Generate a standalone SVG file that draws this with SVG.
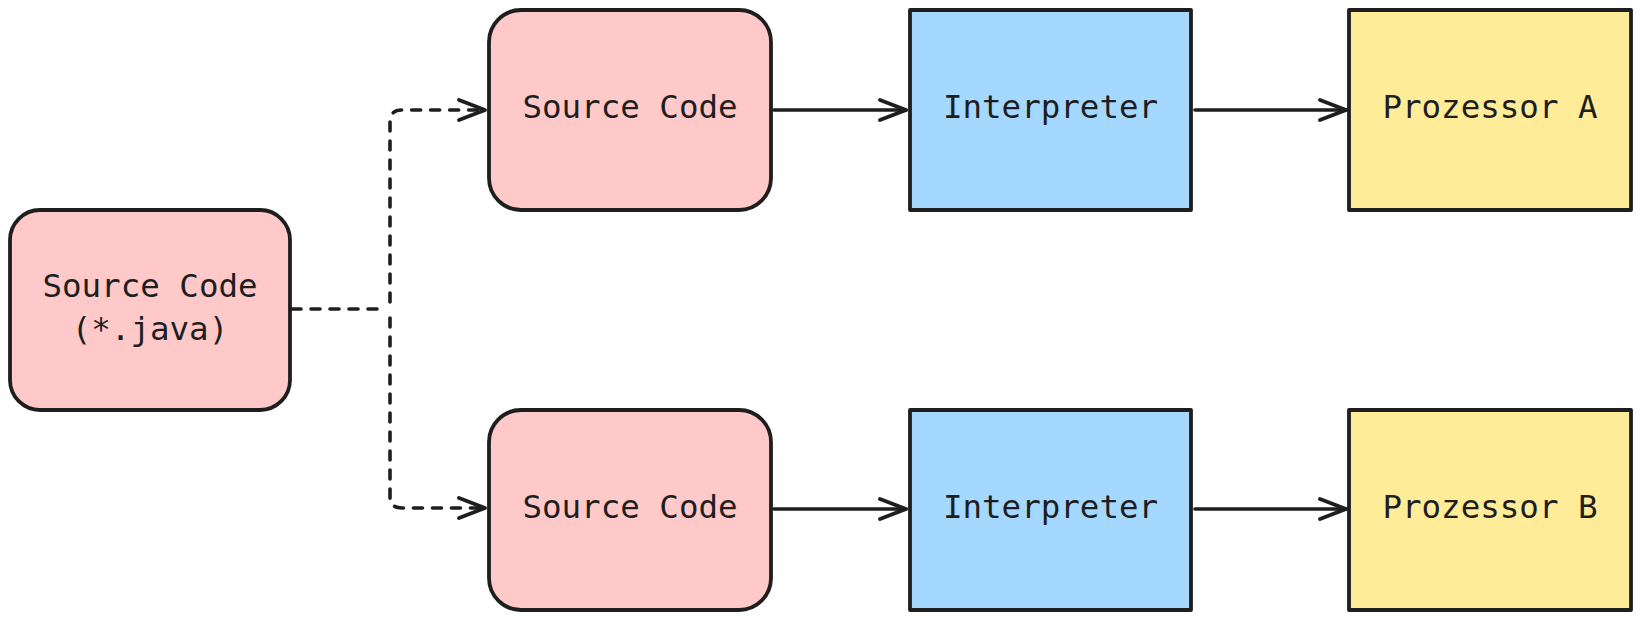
<svg xmlns="http://www.w3.org/2000/svg" width="1640" height="620" viewBox="0 0 1640 620">
<style>
.box{stroke:#1e1e1e;stroke-width:3.8;stroke-linejoin:round}
.pink{fill:#ffc9c9}
.blue{fill:#a5d8ff}
.yellow{fill:#ffec99}
.lbl{font-family:"DejaVu Sans Mono","Liberation Mono",monospace;font-size:32.5px;fill:#1e1e1e;text-anchor:middle}
.edge{fill:none;stroke:#1e1e1e;stroke-width:3.6;stroke-linecap:round;stroke-linejoin:round}
.dash{stroke-dasharray:9 10}
</style>
<defs>
<marker id="arr" markerUnits="userSpaceOnUse" markerWidth="40" markerHeight="40" refX="30" refY="20" orient="auto" overflow="visible">
<path d="M4,10 L30,20 L4,30" fill="none" stroke="#1e1e1e" stroke-width="3.8" stroke-linecap="round" stroke-linejoin="round"/>
</marker>
</defs>
<rect width="1640" height="620" fill="#ffffff"/>
<g id="connectors">
<path class="edge dash" d="M292,309 L383,309"/>
<path class="edge dash" d="M390,302 L390,122 Q390,110 402,110 L485,110" marker-end="url(#arr)"/>
<path class="edge dash" d="M390,318 L390,497 Q390,508 402,508 L485,508" marker-end="url(#arr)"/>
<path class="edge" d="M774,110 L906,110" marker-end="url(#arr)"/>
<path class="edge" d="M1195,110 L1346,110" marker-end="url(#arr)"/>
<path class="edge" d="M774,509 L906,509" marker-end="url(#arr)"/>
<path class="edge" d="M1195,509 L1346,509" marker-end="url(#arr)"/>
</g>
<g id="node-source-java">
<rect class="box pink" x="10" y="210" width="280" height="200" rx="30"/>
<text class="lbl" x="150" y="297">Source Code</text>
<text class="lbl" x="150" y="340">(*.java)</text>
</g>
<g id="node-source-a">
<rect class="box pink" x="489" y="10" width="282" height="200" rx="32"/>
<text class="lbl" x="630" y="118">Source Code</text>
</g>
<g id="node-interp-a">
<rect class="box blue" x="910" y="10" width="281" height="200"/>
<text class="lbl" x="1050.5" y="118">Interpreter</text>
</g>
<g id="node-proz-a">
<rect class="box yellow" x="1349" y="10" width="282" height="200"/>
<text class="lbl" x="1490" y="118">Prozessor A</text>
</g>
<g id="node-source-b">
<rect class="box pink" x="489" y="410" width="282" height="200" rx="32"/>
<text class="lbl" x="630" y="518">Source Code</text>
</g>
<g id="node-interp-b">
<rect class="box blue" x="910" y="410" width="281" height="200"/>
<text class="lbl" x="1050.5" y="518">Interpreter</text>
</g>
<g id="node-proz-b">
<rect class="box yellow" x="1349" y="410" width="282" height="200"/>
<text class="lbl" x="1490" y="518">Prozessor B</text>
</g>
</svg>
